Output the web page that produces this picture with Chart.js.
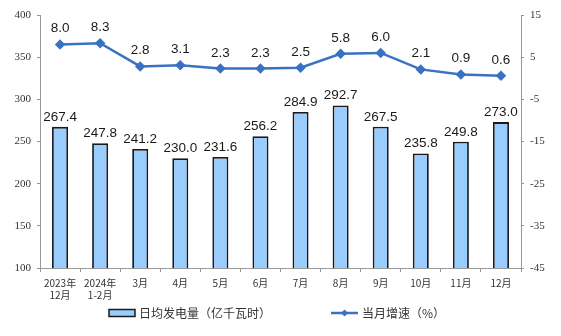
<!DOCTYPE html>
<html>
<head>
<meta charset="utf-8">
<script src="https://cdn.jsdelivr.net/npm/chart.js@4"></script>
<style>
  html, body { margin: 0; padding: 0; background: #fff; }
  #wrap { width: 561px; height: 336px; }
</style>
</head>
<body>
<div id="wrap"><canvas id="myChart"></canvas></div>
<script>
let labels = [['2023年', '12月'], ['2024年', '1-2月'], '3月', '4月', '5月', '6月', '7月', '8月', '9月', '10月', '11月', '12月'];
let dailyOutput = [267.4, 247.8, 241.2, 230.0, 231.6, 256.2, 284.9, 292.7, 267.5, 235.8, 249.8, 273.0];
let monthGrowth = [8.0, 8.3, 2.8, 3.1, 2.3, 2.3, 2.5, 5.8, 6.0, 2.1, 0.9, 0.6];
let barName = '日均发电量（亿千瓦时）';
let lineName = '当月增速（%）';

let barFill = '#99ccff';
let lineColor = '#3a72c2';

// value labels above bars and points
let valueLabels = {
  id: 'valueLabels',
  afterDatasetsDraw(chart) {
    let ctx = chart.ctx;
    ctx.save();
    ctx.font = '13.5px "Liberation Sans", Arial, sans-serif';
    ctx.fillStyle = '#1a1a1a';
    ctx.textAlign = 'center';
    ctx.textBaseline = 'bottom';
    chart.data.datasets.forEach((ds, i) => {
      chart.getDatasetMeta(i).data.forEach((el, j) => {
        let off = ds.type === 'line' ? 9 : 3;
        ctx.fillText(ds.data[j].toFixed(1), el.x, el.y - off);
      });
    });
    ctx.restore();
  }
};

// legend drawn by hand: wide bar swatch and line with marker
let bottomLegend = {
  id: 'bottomLegend',
  afterDraw(chart) {
    let ctx = chart.ctx;
    let y = 313;
    ctx.save();
    ctx.fillStyle = barFill;
    ctx.strokeStyle = '#1a1a1a';
    ctx.lineWidth = 1.5;
    ctx.fillRect(109, y - 3.5, 26, 7);
    ctx.strokeRect(109, y - 3.5, 26, 7);
    ctx.strokeStyle = lineColor;
    ctx.lineWidth = 2.5;
    ctx.beginPath();
    ctx.moveTo(331, y);
    ctx.lineTo(358, y);
    ctx.stroke();
    ctx.fillStyle = lineColor;
    ctx.beginPath();
    ctx.moveTo(344.5, y - 3.5);
    ctx.lineTo(348, y);
    ctx.lineTo(344.5, y + 3.5);
    ctx.lineTo(341, y);
    ctx.closePath();
    ctx.fill();
    ctx.font = '12px "Noto Sans CJK SC", sans-serif';
    ctx.fillStyle = '#333';
    ctx.textBaseline = 'middle';
    ctx.textAlign = 'left';
    ctx.fillText(barName, 139, y);
    ctx.fillText(lineName, 362, y);
    ctx.restore();
  }
};

let ctx = document.getElementById('myChart').getContext('2d');

let myChart = new Chart(ctx, {
  data: {
    labels: labels,
    datasets: [{
      type: 'line',
      label: lineName,
      data: monthGrowth,
      yAxisID: 'y1',
      borderColor: lineColor,
      backgroundColor: lineColor,
      borderWidth: 2.5,
      pointStyle: 'rectRot',
      pointRadius: 3.5,
      tension: 0,
      order: 0
    }, {
      type: 'bar',
      label: barName,
      data: dailyOutput,
      yAxisID: 'y',
      backgroundColor: barFill,
      borderColor: '#1a1a1a',
      borderWidth: 1.8,
      barPercentage: 0.4,
      categoryPercentage: 1,
      order: 1
    }]
  },
  options: {
    responsive: true,
    maintainAspectRatio: false,
    animation: false,
    layout: { padding: { top: 15 } },
    plugins: {
      legend: { display: false },
      tooltip: { enabled: false }
    },
    scales: {
      x: {
        offset: true,
        grid: { display: true, offset: true, drawOnChartArea: false, tickLength: 4, color: '#999' },
        border: { color: '#999' },
        ticks: {
          color: '#333',
          font: { family: '"Noto Sans CJK SC", sans-serif', size: 10 },
          padding: 5,
          maxRotation: 0,
          autoSkip: false
        },
        afterFit: (s) => { s.height = 68; }
      },
      y: {
        position: 'left',
        min: 100,
        max: 400,
        ticks: {
          stepSize: 50,
          color: '#333',
          padding: 6,
          font: { family: 'Liberation Serif', size: 11 }
        },
        grid: { display: true, drawOnChartArea: false, tickLength: 3, color: '#999' },
        border: { color: '#999' },
        afterFit: (s) => { s.width = 40; }
      },
      y1: {
        position: 'right',
        min: -45,
        max: 15,
        ticks: {
          stepSize: 10,
          color: '#333',
          padding: 6,
          font: { family: 'Liberation Serif', size: 11 }
        },
        grid: { display: true, drawOnChartArea: false, tickLength: 3, color: '#999' },
        border: { color: '#999' },
        afterFit: (s) => { s.width = 40; }
      }
    }
  },
  plugins: [valueLabels, bottomLegend]
});
</script>
</body>
</html>
